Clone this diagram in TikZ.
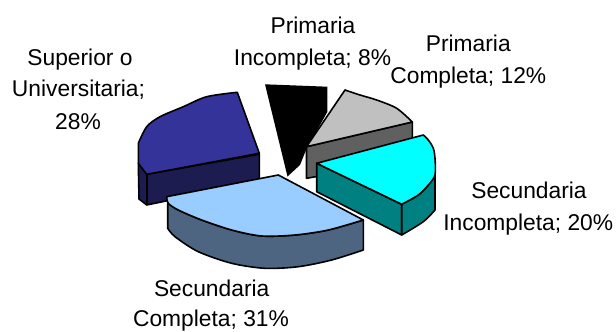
\documentclass[tikz,border=0pt]{standalone}
\usepackage{fontspec}
\setmainfont{Liberation Sans}
\definecolor{navytop}{HTML}{333399}
\definecolor{navyside}{HTML}{1C1C50}
\definecolor{graytop}{HTML}{C0C0C0}
\definecolor{grayside}{HTML}{606060}
\definecolor{cyantop}{HTML}{00FFFF}
\definecolor{cyanside}{HTML}{008080}
\definecolor{bluetop}{HTML}{99CCFF}
\definecolor{blueside}{HTML}{4D6580}
\tikzset{
  face/.style={draw=black, line width=1.6pt, line join=round},
  lbl/.style={anchor=base, inner sep=0pt, font=\fontsize{22.8}{33}\selectfont}
}
\begin{document}
\begin{tikzpicture}[x=1pt,y=-1pt]
\useasboundingbox (0,0) rectangle (616,332);
% Primaria Incompleta (black)
\fill[black] (265,84.3) -- (327.3,86.7) -- (327.3,112) -- (306,150) -- (300,165) -- (287.5,176.5) -- cycle;
% Primaria Completa (gray)
\filldraw[face, fill=grayside] (306.5,146.7) -- (412.3,122) -- (412.3,160) -- (306.5,178.3) -- cycle;
\filldraw[face, fill=graytop] (306.5,146.7) -- (345,90) -- plot[smooth] coordinates {(345,90) (360,95) (376.7,100) (396.7,108.3) (412.3,122)} -- cycle;
% Superior o Universitaria (navy)
\filldraw[face, fill=navyside] (138.3,163.3) -- (146.7,174.3) -- (259.3,154.3) -- (259.3,181.7) -- (146.7,205) -- (139,199) -- cycle;
\filldraw[face, fill=navytop] (237.3,92.3) -- (259.3,153.3) -- (146.7,174.3) -- (138.3,163.3) -- (138.3,143.3) -- plot[smooth] coordinates {(138.3,143.3) (146.7,126.7) (160,116.7) (183.3,106.7) (206.7,96.7) (237.3,92.3)} -- cycle;
\draw[face] (146.7,174.3) -- (146.7,205);
% Secundaria Completa (light blue)
\filldraw[face, fill=blueside] (167.7,203) -- (167.7,228.3) -- plot[smooth] coordinates {(167.7,228.3) (175,236.7) (198.3,251.7) (231.7,263.3) (265,268.3) (298.3,266.7) (331.7,260) (363.3,250)} -- (363.3,220) -- plot[smooth] coordinates {(363.3,220) (328.3,230) (295,235) (261.7,236) (231.7,230) (201.7,220) (178.3,210) (167.7,203)} -- cycle;
\filldraw[face, fill=bluetop] (278.3,175) -- (363.3,220) -- plot[smooth] coordinates {(363.3,220) (328.3,230) (295,235) (261.7,236) (231.7,230) (201.7,220) (178.3,210) (168.3,203.3) (166.7,196.7)} -- cycle;
% Secundaria Incompleta (cyan)
\filldraw[face, fill=cyanside] (316.7,163.3) -- (401.7,204.3) -- (401.7,235) -- (316.7,191.7) -- cycle;
\filldraw[face, fill=cyanside] (401.7,204.3) -- plot[smooth] coordinates {(401.7,204.3) (418.3,195) (428.3,185) (435,175)} -- (435,210) -- plot[smooth] coordinates {(435,210) (423.3,221.7) (401.7,235)} -- cycle;
\filldraw[face, fill=cyantop] (316.7,163.3) -- (423.3,135) -- plot[smooth] coordinates {(423.3,135) (428.3,140) (433.3,148.3) (435,158.3) (435,175) (428.3,185) (418.3,195) (401.7,204.3)} -- cycle;
% Labels
\node[lbl] (supA) at (80,65) {Superior o};
\node[lbl] (supB) at (78.5,96.7) {Universitaria;};
\node[lbl] (supC) at (78,129.3) {28\%};
\node[lbl] (piA) at (313,33.3) {Primaria};
\node[lbl] (piB) at (312.5,65) {Incompleta; 8\%};
\node[lbl] (pcA) at (468.3,51.7) {Primaria};
\node[lbl] (pcB) at (468.3,83.3) {Completa; 12\%};
\node[lbl] (siA) at (529,198.3) {Secundaria};
\node[lbl] (siB) at (528.3,230) {Incompleta; 20\%};
\node[lbl] (scA) at (211.7,296) {Secundaria};
\node[lbl] (scB) at (211,326.7) {Completa; 31\%};
\end{tikzpicture}
\end{document}
